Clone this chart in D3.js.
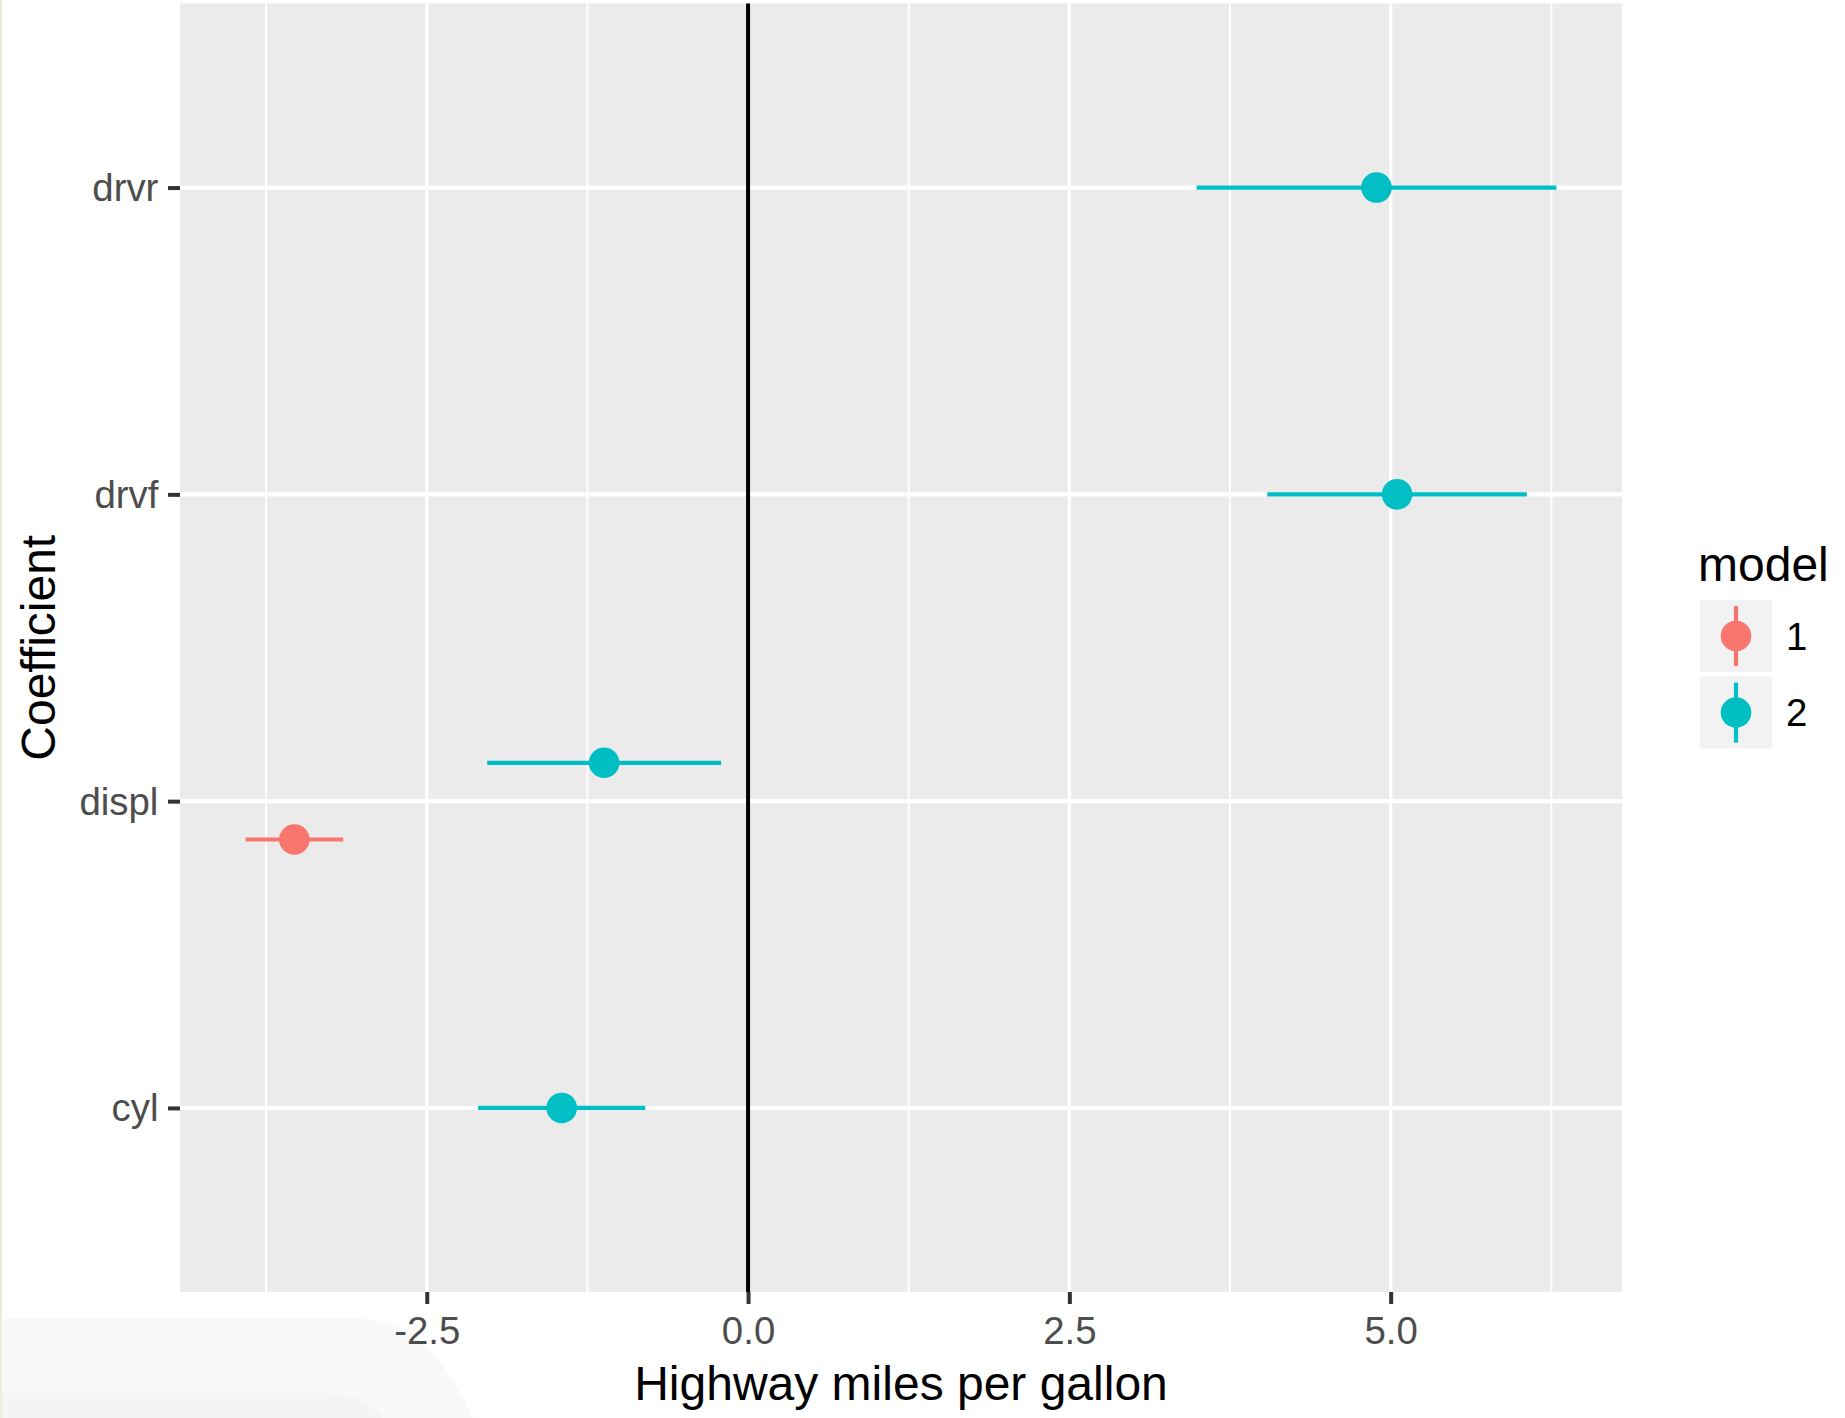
<!DOCTYPE html>
<html>
<head>
<meta charset="utf-8">
<script src="https://cdn.jsdelivr.net/npm/d3@7"></script>
<style>
  html, body { margin: 0; padding: 0; background: #ffffff; }
  svg { display: block; font-family: "Liberation Sans", Arial, Helvetica, sans-serif; }
</style>
</head>
<body>
<script>
// Coefficient estimates with interval bounds, one entry per model term
const terms     = ["displ", "cyl", "displ", "drvf", "drvr"];
const models    = ["1", "2", "2", "2", "2"];
const estimates = [-3.53, -1.45, -1.12, 5.05, 4.89];
const lower     = [-3.91, -2.10, -2.03, 4.04, 3.49];
const upper     = [-3.15, -0.80, -0.21, 6.06, 6.29];

// Axis categories, bottom to top, and tick values
const categories = ["cyl", "displ", "drvf", "drvr"];
const xTicks = [-2.5, 0, 2.5, 5];
const modelLevels = ["1", "2"];
const modelColors = ["#F8766D", "#00BFC4"];

const xTitle = "Highway miles per gallon";
const yTitle = "Coefficient";
const legendTitle = "model";

const W = 1845, H = 1418;
const panel = { left: 180, right: 1622, top: 3.5, bottom: 1292 };

const rows = terms.map((t, i) => ({
  term: t, model: models[i], est: estimates[i], lo: lower[i], hi: upper[i]
}));

const svg = d3.select("body").append("svg")
  .attr("width", W).attr("height", H);

// faint window-edge shading around the figure
svg.append("rect").attr("x", 0).attr("y", 0).attr("width", 2).attr("height", H).attr("fill", "#EEEBE3");
svg.append("path")
  .attr("d", "M2,1318 L350,1318 C410,1318 440,1350 473,1418 L2,1418 Z")
  .attr("fill", "#F9F9F9");
svg.append("path")
  .attr("d", "M2,1393 L318,1393 C350,1393 368,1400 383,1418 L2,1418 Z")
  .attr("fill", "#F4F4F4");

// x scale with 5% expansion of the data range
const lo = d3.min(rows, d => d.lo), hi = d3.max(rows, d => d.hi);
const pad = (hi - lo) * 0.05;
const x = d3.scaleLinear().domain([lo - pad, hi + pad]).range([panel.left, panel.right]);

// discrete y scale, 0.6 step expansion on both ends
const y = d3.scalePoint().domain(categories).range([panel.bottom, panel.top]).padding(0.6);
const step = y.step();

const color = d3.scaleOrdinal().domain(modelLevels).range(modelColors);

// panel background
svg.append("rect")
  .attr("x", panel.left).attr("y", panel.top)
  .attr("width", panel.right - panel.left).attr("height", panel.bottom - panel.top)
  .attr("fill", "#EBEBEB");

// minor vertical grid at midpoints between major ticks
const xStep = xTicks[1] - xTicks[0];
const minor = [];
for (let v = xTicks[0] - xStep / 2; v <= x.domain()[1]; v += xStep) {
  if (v >= x.domain()[0]) minor.push(v);
}
svg.append("g").selectAll("line").data(minor).join("line")
  .attr("x1", d => x(d)).attr("x2", d => x(d))
  .attr("y1", panel.top).attr("y2", panel.bottom)
  .attr("stroke", "#ffffff").attr("stroke-width", 2);

// major grid
svg.append("g").selectAll("line").data(xTicks).join("line")
  .attr("x1", d => x(d)).attr("x2", d => x(d))
  .attr("y1", panel.top).attr("y2", panel.bottom)
  .attr("stroke", "#ffffff").attr("stroke-width", 3.4);
svg.append("g").selectAll("line").data(categories).join("line")
  .attr("x1", panel.left).attr("x2", panel.right)
  .attr("y1", d => y(d)).attr("y2", d => y(d))
  .attr("stroke", "#ffffff").attr("stroke-width", 4.2);

// reference line at zero
svg.append("line")
  .attr("x1", x(0)).attr("x2", x(0))
  .attr("y1", panel.top).attr("y2", panel.bottom)
  .attr("stroke", "#000000").attr("stroke-width", 4);

// dodge models within each term; the first level sits lowest
const groupsPerTerm = d3.rollup(rows, v => v.map(d => d.model).sort(), d => d.term);
const dodgeWidth = 0.25;
function yDodged(d) {
  const g = groupsPerTerm.get(d.term);
  const n = g.length;
  const k = g.indexOf(d.model);
  const off = n > 1 ? ((n - 1) / 2 - k) * dodgeWidth / (n - 1) : 0;
  return y(d.term) + off * step;
}

const marks = svg.append("g");
marks.selectAll("line").data(rows).join("line")
  .attr("x1", d => x(d.lo)).attr("x2", d => x(d.hi))
  .attr("y1", yDodged).attr("y2", yDodged)
  .attr("stroke", d => color(d.model)).attr("stroke-width", 4.2);
marks.selectAll("circle").data(rows).join("circle")
  .attr("cx", d => x(d.est)).attr("cy", yDodged).attr("r", 15.3)
  .attr("fill", d => color(d.model));

// axes
const fmt = d => d3.format(".1f")(d).replace("\u2212", "-");
const xAxis = svg.append("g")
  .attr("transform", `translate(0,${panel.bottom})`)
  .call(d3.axisBottom(x).tickValues(xTicks).tickFormat(fmt).tickSize(12).tickPadding(12.7));
const yAxis = svg.append("g")
  .attr("transform", `translate(${panel.left},0)`)
  .call(d3.axisLeft(y).tickSize(12).tickPadding(9.6));
[xAxis, yAxis].forEach(a => {
  a.select(".domain").remove();
  a.selectAll(".tick line").attr("stroke", "#333333").attr("stroke-width", 4);
  a.selectAll(".tick text")
    .attr("fill", "#4D4D4D")
    .style("font-size", "38.4px")
    .style("font-family", "\"Liberation Sans\", Arial, Helvetica, sans-serif");
});
yAxis.selectAll(".tick text").attr("dy", "0.34em");

// axis titles
svg.append("text")
  .attr("x", (panel.left + panel.right) / 2).attr("y", 1400)
  .attr("text-anchor", "middle").attr("font-size", 48).attr("fill", "#000")
  .text(xTitle);
svg.append("text")
  .attr("transform", `translate(55,${(panel.top + panel.bottom) / 2}) rotate(-90)`)
  .attr("text-anchor", "middle").attr("font-size", 48).attr("fill", "#000")
  .text(yTitle);

// legend
const legend = svg.append("g").attr("transform", "translate(1698,0)");
legend.append("text").attr("x", 0).attr("y", 581)
  .attr("font-size", 48).attr("fill", "#000").text(legendTitle);
const keySize = 72, keyGap = 4.5, keyTop = 600;
const keys = legend.selectAll("g.key").data(modelLevels).join("g")
  .attr("class", "key")
  .attr("transform", (d, i) => `translate(2,${keyTop + i * (keySize + keyGap)})`);
keys.append("rect").attr("width", keySize).attr("height", keySize).attr("fill", "#F2F2F2");
keys.append("line")
  .attr("x1", keySize / 2).attr("x2", keySize / 2)
  .attr("y1", 6).attr("y2", keySize - 6)
  .attr("stroke", d => color(d)).attr("stroke-width", 4.2);
keys.append("circle")
  .attr("cx", keySize / 2).attr("cy", keySize / 2).attr("r", 15.3)
  .attr("fill", d => color(d));
keys.append("text")
  .attr("x", keySize + 14).attr("y", keySize / 2).attr("dy", "0.36em")
  .attr("font-size", 38.4).attr("fill", "#000").text(d => d);
</script>
</body>
</html>
